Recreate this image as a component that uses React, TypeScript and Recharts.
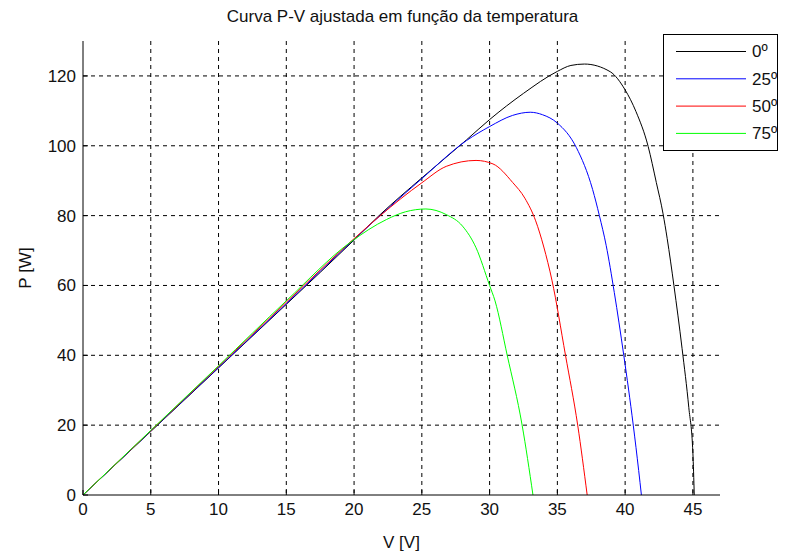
import { LineChart, Line, XAxis, YAxis, CartesianGrid, Legend, Label } from 'recharts';

const FONT = '"Liberation Sans", Arial, Helvetica, sans-serif';

// Tensão [V] e potência [W], uma lista por temperatura
const v0 = [0, 5, 10, 15, 20, 21.9, 25, 28.3, 30, 32.5, 35, 36, 37, 38.9, 40, 40.8, 41.7, 42.3, 42.8, 43.1, 43.6, 44.2, 44.7, 45.0, 45.1];
const p0 = [0, 18.2, 36.4, 54.6, 73, 80.2, 90.8, 101.7, 107.5, 115, 121.3, 123, 123.4, 121.2, 116, 109.8, 99.8, 89.5, 80.5, 73.5, 60, 42, 25, 12, 0];

const v25 = [0, 5, 10, 15, 20, 25, 28.3, 30, 31.7, 33, 33.9, 35, 36.4, 37.6, 38.1, 38.6, 39.2, 39.9, 40.6, 41.0, 41.2];
const p25 = [0, 18.3, 36.5, 54.8, 73.2, 90.6, 101.5, 105.5, 108.7, 109.6, 108.9, 106.5, 99.5, 87.5, 80, 71.5, 58, 40, 20, 7, 0];

const v50 = [0, 5, 10, 15, 20, 21.9, 25, 26.8, 29, 30.25, 31.7, 32.6, 33.4, 34.0, 34.6, 35.6, 36.5, 37.2];
const p50 = [0, 18.4, 36.8, 55.2, 73.4, 79.9, 89.4, 94.1, 95.8, 94.8, 89.5, 85, 78.5, 71, 61.5, 40, 20, 0];

const v75 = [0, 5, 10, 15, 19.7, 22.4, 23.8, 25.3, 26.8, 28, 29, 30, 30.4, 31.3, 32.4, 33.2];
const p75 = [0, 18.5, 37, 55.6, 72.3, 78.9, 81.1, 81.9, 80.3, 77, 70.8, 60, 55.6, 40, 20, 0];

const names = ['0º', '25º', '50º', '75º'];
const colors = ['#000000', '#0000ff', '#ff0000', '#00ff00'];
const volts = [v0, v25, v50, v75];
const powers = [p0, p25, p50, p75];

const xTicks = [0, 5, 10, 15, 20, 25, 30, 35, 40, 45];
const yTicks = [0, 20, 40, 60, 80, 100, 120];
const xMax = 47;
const yMax = 130;

const series = names.map((name, i) => ({
  name,
  color: colors[i],
  data: volts[i].map((v, j) => ({ v, p: powers[i][j] })),
}));

const tickStyle = { fill: '#111', fontSize: 17, fontFamily: FONT };

// grid only at the inner ticks, like MATLAB with box off
const gridY = ({ yAxis, offset }: any) =>
  yTicks
    .filter((t) => t > 0)
    .map((t) =>
      typeof yAxis?.scale === 'function'
        ? yAxis.scale(t)
        : offset.top + offset.height * (1 - t / yMax)
    );

const gridX = ({ xAxis, offset }: any) =>
  xTicks
    .filter((t) => t > 0)
    .map((t) =>
      typeof xAxis?.scale === 'function'
        ? xAxis.scale(t)
        : offset.left + offset.width * (t / xMax)
    );

const BoxLegend = ({ payload }: any) => (
  <svg width={116} height={118} style={{ display: 'block' }}>
    <rect x={0.5} y={0.5} width={114} height={116} fill="#fff" stroke="#000" />
    {(payload ?? []).map((entry: any, i: number) => {
      const y = 17.5 + i * 27.3;
      return (
        <g key={entry.value}>
          <line x1={13} x2={83} y1={y} y2={y} stroke={entry.color} strokeWidth={1} />
          <text x={89} y={y} dy="0.35em" fontSize={17} fontFamily={FONT} fill="#111">
            {entry.value}
          </text>
        </g>
      );
    })}
  </svg>
);

const YLabel = () => (
  <text
    x={25}
    y={268}
    transform="rotate(-90 25 268)"
    textAnchor="middle"
    dy="0.35em"
    fontSize={17}
    fontFamily={FONT}
    fill="#111"
  >
    P [W]
  </text>
);

export default function App() {
  return (
    <div style={{ position: 'relative', width: 787, height: 553, background: '#fff' }}>
      <style>{'body{margin:0}'}</style>
      <div
        style={{
          position: 'absolute',
          top: 7,
          left: 0,
          width: 805,
          textAlign: 'center',
          fontFamily: FONT,
          fontSize: 17,
          color: '#111',
          lineHeight: '20px',
        }}
      >
        Curva P-V ajustada em função da temperatura
      </div>
      <LineChart
        width={787}
        height={553}
        margin={{ top: 41, right: 67, bottom: 0, left: 0 }}
      >
        <CartesianGrid
          stroke="#000"
          strokeDasharray="4 4"
          horizontalCoordinatesGenerator={gridY}
          verticalCoordinatesGenerator={gridX}
        />
        <XAxis
          type="number"
          dataKey="v"
          domain={[0, xMax]}
          ticks={xTicks}
          height={58}
          tick={tickStyle}
          tickSize={-5}
          tickMargin={13}
          stroke="#000"
          allowDataOverflow
        >
          <Label
            value="V [V]"
            position="insideBottom"
            offset={5}
            style={{ fontSize: 17, fontFamily: FONT, fill: '#111' }}
          />
        </XAxis>
        <YAxis
          type="number"
          domain={[0, yMax]}
          ticks={yTicks}
          width={83}
          tick={tickStyle}
          tickSize={-5}
          tickMargin={12}
          stroke="#000"
          allowDataOverflow
        >
          <Label content={YLabel} />
        </YAxis>
        {series.map((s) => (
          <Line
            key={s.name}
            data={s.data}
            dataKey="p"
            name={s.name}
            type="monotone"
            stroke={s.color}
            strokeWidth={1}
            dot={false}
            activeDot={false}
            isAnimationActive={false}
          />
        ))}
        <Legend
          layout="vertical"
          align="center"
          verticalAlign="middle"
          content={<BoxLegend />}
          wrapperStyle={{ left: 663, top: 34, width: 116, height: 118 }}
        />
      </LineChart>
    </div>
  );
}
